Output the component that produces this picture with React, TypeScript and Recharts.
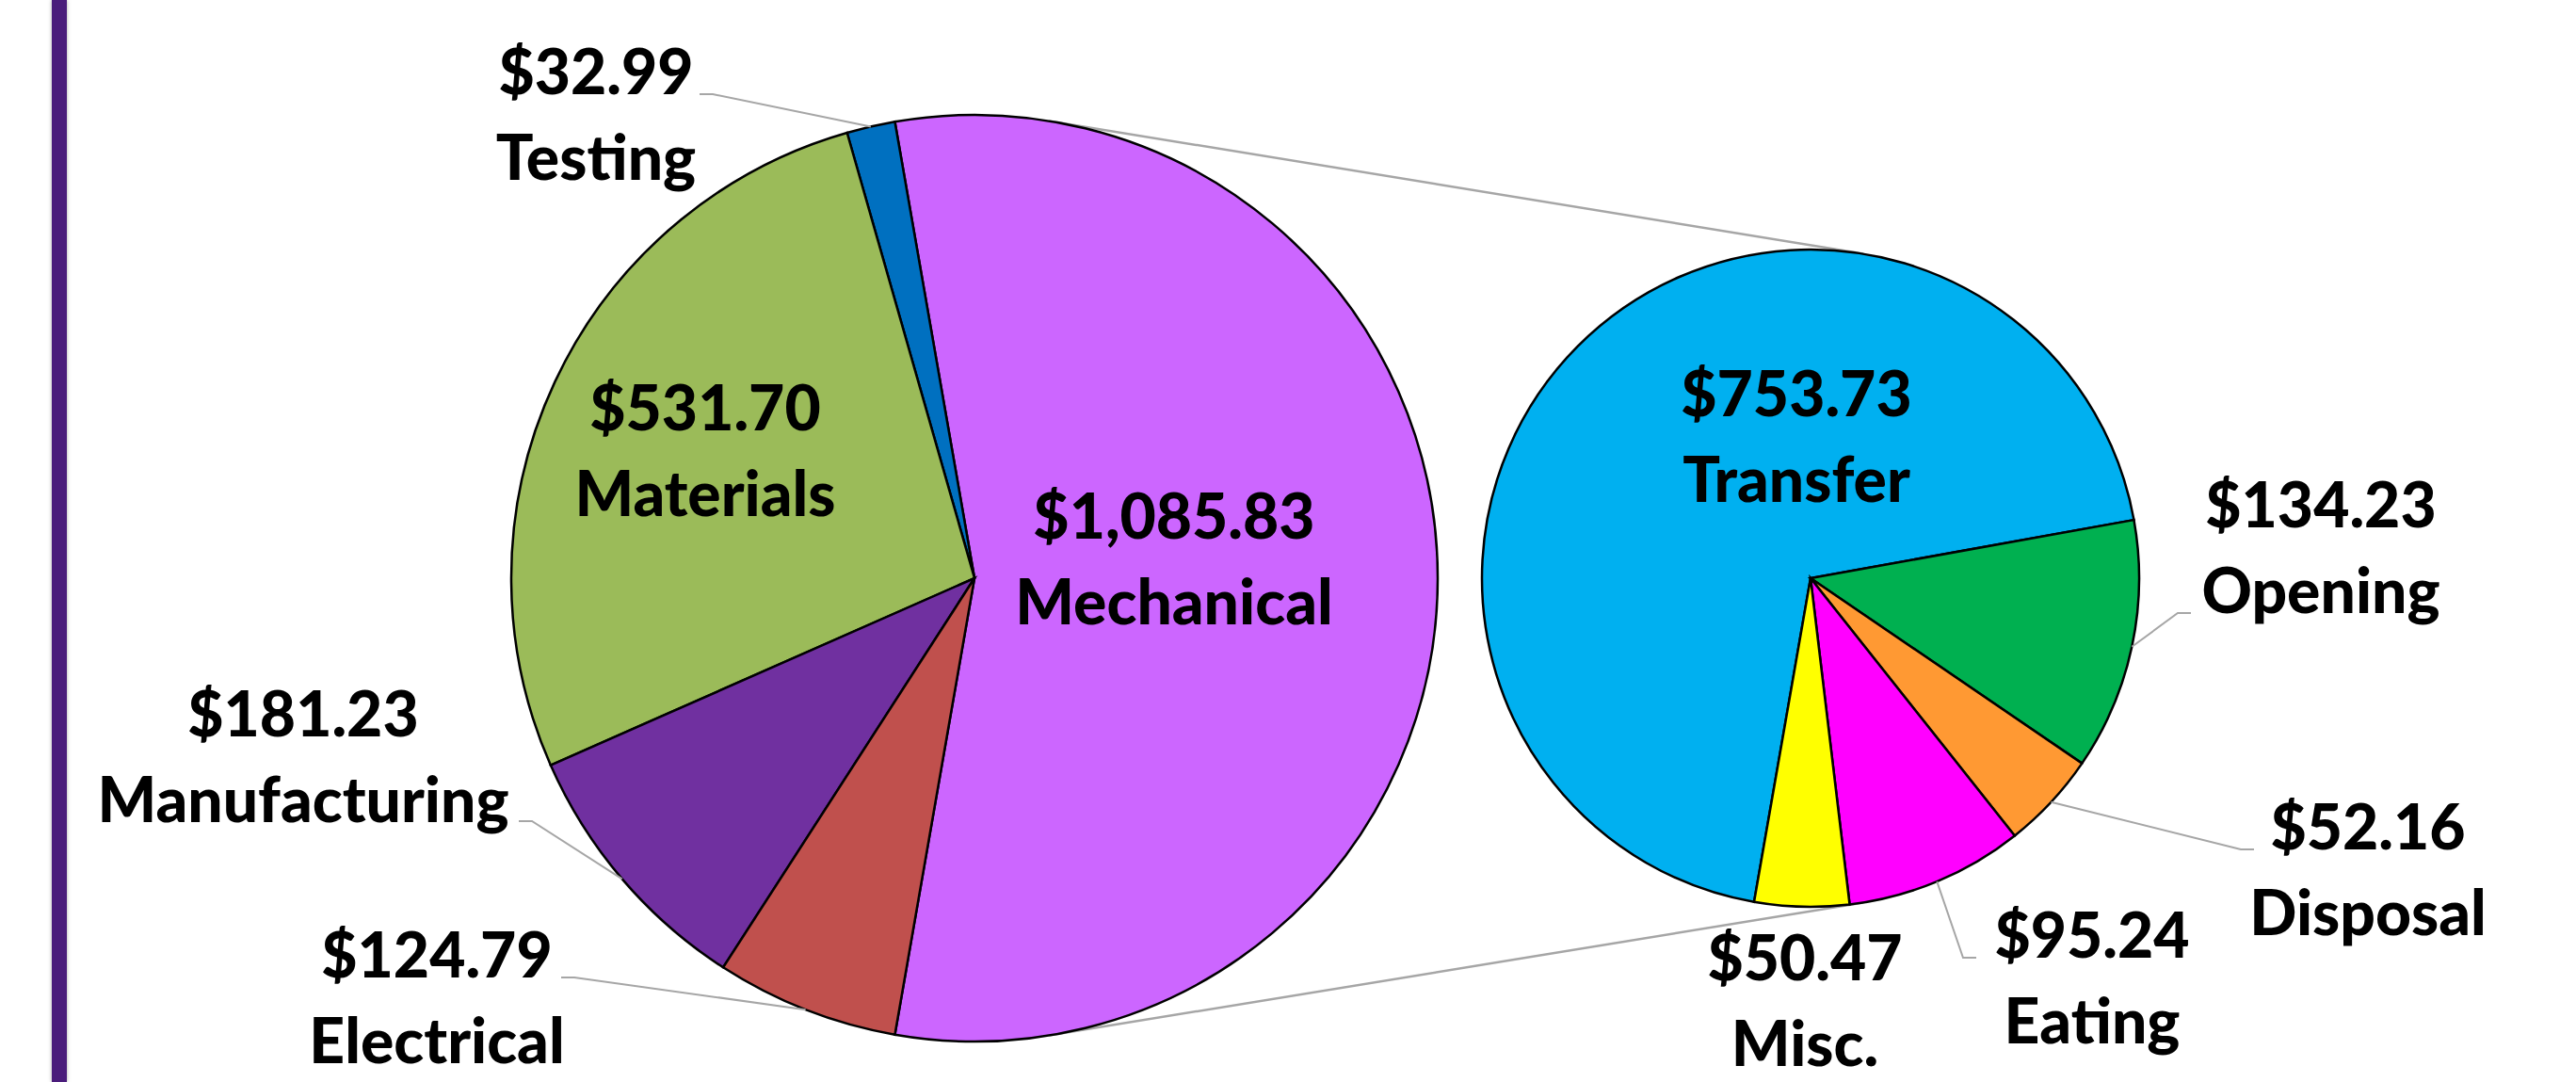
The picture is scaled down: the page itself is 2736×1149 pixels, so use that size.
import React from 'react';
import { PieChart, Pie, Cell } from 'recharts';

// main pie: the first slice is the one broken out into the second pie
const mainNames = ['Mechanical', 'Testing', 'Materials', 'Manufacturing', 'Electrical'];
const mainValues = [1085.83, 32.99, 531.7, 181.23, 124.79];
const mainColors = ['#cc66ff', '#0070c0', '#9bbb59', '#7030a0', '#c0504d'];

const subNames = ['Transfer', 'Opening', 'Disposal', 'Eating', 'Misc.'];
const subValues = [753.73, 134.23, 52.16, 95.24, 50.47];
const subColors = ['#00b0f0', '#00b050', '#ff9933', '#ff00ff', '#ffff00'];

const W = 2736;
const H = 1149;
const MAIN = { cx: 1035, cy: 614, r: 492 };
const SUB = { cx: 1923, cy: 614, r: 349 };
const LINE_GAP = 91;

// label placement relative to each pie's centre; lead = where the leader leaves the text
const labelLayout: Record<string, { dx: number; dy: number; lead?: [number, number] }> = {
  Mechanical: { dx: 212, dy: -42 },
  Testing: { dx: -402, dy: -514, lead: [110, 0] },
  Materials: { dx: -286, dy: -157 },
  Manufacturing: { dx: -713, dy: 168, lead: [229, 90] },
  Electrical: { dx: -571, dy: 424, lead: [132, 0] },
  Transfer: { dx: -15, dy: -172 },
  Opening: { dx: 542, dy: -54, lead: [-138, 91] },
  Disposal: { dx: 592, dy: 288, lead: [-121, 0] },
  Eating: { dx: 299, dy: 403, lead: [-123, 0] },
  'Misc.': { dx: -6, dy: 427 },
};

const mainData = mainNames.map((name, i) => ({ name, value: mainValues[i] }));
const subData = subNames.map((name, i) => ({ name, value: subValues[i] }));

const money = (v: number) =>
  '$' + v.toLocaleString('en-US', { minimumFractionDigits: 2, maximumFractionDigits: 2 });

const renderLabel = (props: any) => {
  const { cx, cy, midAngle, outerRadius, value } = props;
  const name = props.payload?.name ?? props.name;
  const lay = labelLayout[name];
  if (!lay) return null;
  const x = cx + lay.dx;
  const y = cy + lay.dy;
  let leader = null;
  if (lay.lead) {
    const sx = x + lay.lead[0];
    const sy = y + lay.lead[1];
    const dir = lay.lead[0] > 0 ? 1 : -1;
    const rad = (-midAngle * Math.PI) / 180;
    const ex = cx + outerRadius * Math.cos(rad);
    const ey = cy + outerRadius * Math.sin(rad);
    leader = (
      <polyline
        points={`${sx},${sy} ${sx + dir * 14},${sy} ${ex},${ey}`}
        fill="none"
        stroke="#a6a6a6"
        strokeWidth={2}
      />
    );
  }
  return (
    <g>
      {leader}
      <text
        x={x}
        y={y}
        textAnchor="middle"
        fill="#000"
        style={{ fontFamily: 'Lato, sans-serif', fontWeight: 900, fontSize: 66 }}
      >
        <tspan x={x}>{money(value)}</tspan>
        <tspan x={x} dy={LINE_GAP}>
          {name}
        </tspan>
      </text>
    </g>
  );
};

const App: React.FC = () => {
  const total = mainValues.reduce((a, b) => a + b, 0);
  const half = (mainValues[0] / total) * 180;

  // outer tangents between the two pies (series lines)
  const sinA = (MAIN.r - SUB.r) / (SUB.cx - MAIN.cx);
  const cosA = Math.sqrt(1 - sinA * sinA);
  const top = [
    MAIN.cx + MAIN.r * sinA, MAIN.cy - MAIN.r * cosA,
    SUB.cx + SUB.r * sinA, SUB.cy - SUB.r * cosA,
  ];
  const bot = [
    MAIN.cx + MAIN.r * sinA, MAIN.cy + MAIN.r * cosA,
    SUB.cx + SUB.r * sinA, SUB.cy + SUB.r * cosA,
  ];

  return (
    <div
      style={{
        position: 'absolute',
        top: 0,
        left: 0,
        width: W,
        height: H,
        background: '#fff',
        overflow: 'hidden',
      }}
    >
      <div
        style={{
          position: 'absolute',
          left: 55,
          top: 0,
          width: 16,
          height: H,
          background: '#4a1c7b',
          boxShadow: '0 0 4px rgba(0,0,0,0.35)',
        }}
      />
      <svg width={W} height={H} style={{ position: 'absolute', top: 0, left: 0 }}>
        <line x1={top[0]} y1={top[1]} x2={top[2]} y2={top[3]} stroke="#a6a6a6" strokeWidth={2.5} />
        <line x1={bot[0]} y1={bot[1]} x2={bot[2]} y2={bot[3]} stroke="#a6a6a6" strokeWidth={2.5} />
      </svg>
      <div style={{ position: 'absolute', top: 0, left: 0 }}>
        <PieChart width={W} height={H} margin={{ top: 0, right: 0, bottom: 0, left: 0 }}>
          <Pie
            data={mainData}
            dataKey="value"
            nameKey="name"
            cx={MAIN.cx}
            cy={MAIN.cy}
            outerRadius={MAIN.r}
            startAngle={-half}
            endAngle={360 - half}
            stroke="#000"
            strokeWidth={2.5}
            label={renderLabel}
            labelLine={false}
            isAnimationActive={false}
          >
            {mainData.map((d, i) => (
              <Cell key={d.name} fill={mainColors[i]} />
            ))}
          </Pie>
          <Pie
            data={subData}
            dataKey="value"
            nameKey="name"
            cx={SUB.cx}
            cy={SUB.cy}
            outerRadius={SUB.r}
            startAngle={360 - half}
            endAngle={-half}
            stroke="#000"
            strokeWidth={2.5}
            label={renderLabel}
            labelLine={false}
            isAnimationActive={false}
          >
            {subData.map((d, i) => (
              <Cell key={d.name} fill={subColors[i]} />
            ))}
          </Pie>
        </PieChart>
      </div>
    </div>
  );
};

export default App;
